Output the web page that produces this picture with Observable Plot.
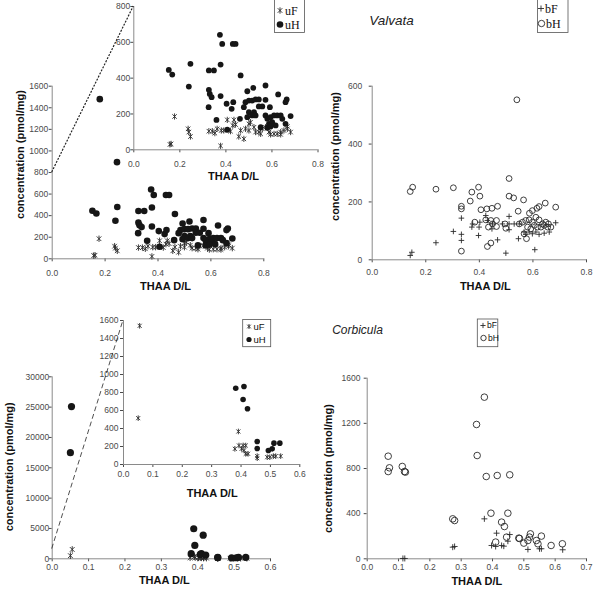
<!DOCTYPE html>
<html><head><meta charset="utf-8">
<script src="https://cdn.jsdelivr.net/npm/d3@7"></script>
<script src="https://cdn.jsdelivr.net/npm/@observablehq/plot@0.6"></script>
<style>
body{margin:0;background:#fff;}
#root{position:relative;width:594px;height:589px;overflow:hidden;background:#fff;}
</style></head><body><div id="root"></div>
<script>
// ---------- data ----------
const valvata_uF = [[0.157,30],[0.162,33],[0.177,186],[0.236,117],[0.239,99],[0.246,74],[0.377,22],[0.326,104],[0.341,104],[0.352,93],[0.362,117],[0.380,108],[0.391,108],[0.406,167],[0.435,167],[0.430,136],[0.442,141],[0.456,74],[0.478,61],[0.485,117],[0.500,108],[0.507,154],[0.522,126],[0.529,99],[0.543,99],[0.558,117],[0.572,126],[0.587,99],[0.609,89],[0.623,89],[0.638,99],[0.652,108],[0.667,117],[0.681,99],[0.500,145],[0.551,89],[0.594,86],[0.638,86],[0.667,130],[0.420,104],[0.464,108]];
const valvata_uH = [[0.180,1480],[0.245,896],[0.152,446],[0.167,420],[0.246,480],[0.239,353],[0.326,443],[0.348,443],[0.377,476],[0.374,642],[0.384,591],[0.430,591],[0.442,591],[0.464,415],[0.326,335],[0.330,312],[0.338,294],[0.377,300],[0.325,238],[0.359,167],[0.403,257],[0.425,229],[0.432,266],[0.406,112],[0.461,173],[0.493,327],[0.519,346],[0.572,359],[0.627,309],[0.664,281],[0.659,266],[0.681,188],[0.485,266],[0.500,275],[0.514,275],[0.529,281],[0.543,281],[0.478,238],[0.500,210],[0.522,210],[0.543,242],[0.558,242],[0.572,279],[0.591,238],[0.493,182],[0.514,192],[0.529,192],[0.551,126],[0.572,192],[0.580,173],[0.594,182],[0.609,192],[0.623,192],[0.638,192],[0.587,145],[0.601,154],[0.616,136],[0.645,173],[0.659,145],[0.580,123],[0.594,130]];
const valvata_bF = [[0.142,15],[0.148,26],[0.238,59],[0.303,98],[0.333,88],[0.333,67],[0.333,144],[0.372,113],[0.397,84],[0.402,130],[0.424,153],[0.430,136],[0.447,107],[0.468,69],[0.449,124],[0.499,23],[0.511,150],[0.511,104],[0.530,124],[0.549,124],[0.546,73],[0.607,35],[0.567,96],[0.573,88],[0.586,96],[0.598,90],[0.611,96],[0.623,88],[0.642,92],[0.661,96],[0.685,128],[0.511,124],[0.486,124],[0.375,124],[0.399,113]];
const valvata_bH = [[0.540,553],[0.142,236],[0.151,251],[0.238,244],[0.303,249],[0.372,234],[0.397,251],[0.402,220],[0.366,203],[0.511,281],[0.511,220],[0.528,214],[0.565,207],[0.333,185],[0.333,176],[0.333,30],[0.406,173],[0.428,176],[0.447,178],[0.468,185],[0.383,130],[0.424,138],[0.443,136],[0.464,136],[0.430,46],[0.443,58],[0.496,124],[0.499,109],[0.545,168],[0.587,161],[0.598,170],[0.615,178],[0.623,184],[0.646,196],[0.685,182],[0.549,124],[0.561,130],[0.573,136],[0.586,138],[0.598,130],[0.611,147],[0.623,138],[0.636,124],[0.648,130],[0.658,124],[0.567,90],[0.576,73],[0.580,113],[0.592,107],[0.605,119],[0.617,113],[0.630,113],[0.642,119],[0.655,113],[0.667,113],[0.464,115],[0.449,124],[0.434,113]];
const corbicula_uF = [[0.055,1541],[0.050,515],[0.391,367],[0.379,174],[0.393,211],[0.407,211],[0.416,211],[0.402,174],[0.410,156],[0.416,119],[0.424,119],[0.455,93],[0.455,70],[0.489,81],[0.498,81],[0.510,93],[0.518,93],[0.535,93]];
const corbicula_uH = [[0.053,25100],[0.050,17500],[0.389,4950],[0.392,2200],[0.415,3900],[0.382,848],[0.410,867],[0.407,722],[0.422,619],[0.455,256],[0.455,178],[0.493,156],[0.506,174],[0.512,237],[0.532,237]];
const corbicula_bF = [[0.374,354],[0.413,227],[0.455,215],[0.449,156],[0.397,118],[0.410,109],[0.429,118],[0.436,112],[0.273,103],[0.279,109],[0.114,3],[0.120,3],[0.513,83],[0.550,89],[0.556,89],[0.624,80]];
const corbicula_bH = [[0.374,1432],[0.349,1190],[0.351,915],[0.067,909],[0.071,806],[0.067,773],[0.112,818],[0.119,773],[0.122,768],[0.380,729],[0.415,738],[0.455,744],[0.273,354],[0.279,339],[0.395,404],[0.449,404],[0.429,325],[0.438,286],[0.410,148],[0.445,192],[0.484,183],[0.486,180],[0.500,139],[0.513,162],[0.521,221],[0.518,192],[0.540,162],[0.545,133],[0.556,201],[0.587,118],[0.623,133]];

const xTicks08 = [0, 0.2, 0.4, 0.6, 0.8];
const xTicks06 = [0, 0.1, 0.2, 0.3, 0.4, 0.5, 0.6];
const xTicks07 = [0, 0.1, 0.2, 0.3, 0.4, 0.5, 0.6, 0.7];
const yTicksV1 = [0, 200, 400, 600, 800, 1000, 1200, 1400, 1600];
const yTicksV1i = [0, 200, 400, 600, 800];
const yTicksV2 = [0, 200, 400, 600];
const yTicksC1 = [0, 5000, 10000, 15000, 20000, 25000, 30000];
const yTicksC1i = [0, 200, 400, 600, 800, 1000, 1200, 1400, 1600];
const yTicksC2 = [0, 400, 800, 1200, 1600];

const xTitle = "THAA D/L";
const yTitle = "concentration (pmol/mg)";
const speciesTitles = ["Valvata", "Corbicula"];
const legendUnbleached = ["uF", "uH"];
const legendBleached = ["bF", "bH"];

// ---------- helpers ----------
const toObj = arr => arr.map(([x, y]) => ({x, y}));
const asterSym = {draw(ctx, size) {
  const r = Math.sqrt(size / Math.PI), d = r * 0.72;
  ctx.moveTo(0, -r); ctx.lineTo(0, r);
  ctx.moveTo(-d, -d); ctx.lineTo(d, d);
  ctx.moveTo(-d, d); ctx.lineTo(d, -d);
}};
const plusSym = {draw(ctx, size) {
  const r = Math.sqrt(size / Math.PI);
  ctx.moveTo(-r, 0); ctx.lineTo(r, 0);
  ctx.moveTo(0, -r); ctx.lineTo(0, r);
}};

const root = document.getElementById("root");
const SANS = "'Liberation Sans', Arial, sans-serif";
const SERIF = "'Liberation Serif', 'Times New Roman', serif";

function panel(cfg) {
  const [L, T, W, H] = cfg.box;
  const [x0, x1, y0, y1] = cfg.frame;
  const marks = [
    Plot.ruleX([cfg.xDomain[0]], {stroke: "#8a8a8a", strokeWidth: 1}),
    Plot.ruleY([cfg.yDomain[0]], {stroke: "#8a8a8a", strokeWidth: 1}),
    ...cfg.marks,
    Plot.text([xTitle], {text: d => d, frameAnchor: "bottom", dx: cfg.xt[0], dy: cfg.xt[1],
      fontWeight: "bold", fontSize: 11, fill: "#111", lineAnchor: "middle", textAnchor: "middle"})
  ];
  if (cfg.yt) marks.push(Plot.text([yTitle], {text: d => d, frameAnchor: "left", rotate: -90,
      dx: cfg.yt[0], dy: cfg.yt[1], fontWeight: "bold", fontSize: 11, fill: "#111",
      lineAnchor: "middle", textAnchor: "middle"}));
  const p = Plot.plot({
    width: W, height: H,
    marginLeft: x0 - L, marginRight: L + W - x1, marginTop: y0 - T, marginBottom: T + H - y1,
    x: {domain: cfg.xDomain, ticks: cfg.xTicks, tickFormat: ".1f", tickSize: 3, tickPadding: cfg.xPad, label: null},
    y: {domain: cfg.yDomain, ticks: cfg.yTicks, tickFormat: "d", tickSize: 3, tickPadding: cfg.yPad, label: null},
    style: {background: "none", overflow: "visible", fontFamily: SANS, fontSize: "8.5px", color: "#4a4a4a"},
    marks
  });
  p.style.position = "absolute";
  p.style.left = L + "px";
  p.style.top = T + "px";
  root.appendChild(p);
  return {L, T, x: p.scale("x"), y: p.scale("y")};
}
const inDomain = (arr, ymax) => toObj(arr).filter(d => d.y <= ymax);

// ---------- Valvata unbleached (main) ----------
const v1 = panel({
  box: [0, 60, 300, 240], frame: [51.7, 263.3, 85.7, 258.3],
  xDomain: [0, 0.8], yDomain: [0, 1600], xTicks: xTicks08, yTicks: yTicksV1, xPad: 7.7, yPad: 1,
  xt: [7.5, 27.7], yt: [-32, -18],
  marks: [
    Plot.dot(toObj(valvata_uF), {x: "x", y: "y", symbol: asterSym, r: 3.2, fill: "none", stroke: "#2a2a2a", strokeWidth: 0.9}),
    Plot.dot(toObj(valvata_uH), {x: "x", y: "y", r: 3.3, fill: "#161616", stroke: "none"})
  ]
});
// ---------- Valvata unbleached (inset) ----------
const v1i = panel({
  box: [95, 0, 230, 190], frame: [133.3, 317.5, 6, 149.3],
  xDomain: [0, 0.8], yDomain: [0, 800], xTicks: xTicks08, yTicks: yTicksV1i, xPad: 8, yPad: 0.5,
  xt: [7.6, 26.7], yt: null,
  marks: [
    Plot.dot(inDomain(valvata_uF, 800), {x: "x", y: "y", symbol: asterSym, r: 3.1, fill: "none", stroke: "#2a2a2a", strokeWidth: 0.9}),
    Plot.dot(inDomain(valvata_uH, 800), {x: "x", y: "y", r: 2.9, fill: "#161616", stroke: "none"})
  ]
});
// ---------- Valvata bleached ----------
const v2 = panel({
  box: [300, 60, 294, 240], frame: [371.7, 586, 85.7, 259.3],
  xDomain: [0, 0.8], yDomain: [0, 600], xTicks: xTicks08, yTicks: yTicksV2, xPad: 6.4, yPad: 7,
  xt: [6, 26.7], yt: [-36.7, -16.5],
  marks: [
    Plot.dot(toObj(valvata_bF), {x: "x", y: "y", symbol: plusSym, r: 2.8, fill: "none", stroke: "#2a2a2a", strokeWidth: 0.9}),
    Plot.dot(toObj(valvata_bH), {x: "x", y: "y", r: 2.9, fill: "none", stroke: "#2a2a2a", strokeWidth: 0.9})
  ]
});
// ---------- Corbicula unbleached (main) ----------
const c1 = panel({
  box: [0, 360, 300, 229], frame: [51.7, 270, 376.3, 558.3],
  xDomain: [0, 0.6], yDomain: [0, 30000], xTicks: xTicks06, yTicks: yTicksC1, xPad: 2.4, yPad: 0,
  xt: [3, 21.7], yt: [-43, -1],
  marks: [
    Plot.dot(toObj(corbicula_uF), {x: "x", y: "y", symbol: asterSym, r: 3.3, fill: "none", stroke: "#2a2a2a", strokeWidth: 0.9}),
    Plot.dot(toObj(corbicula_uH), {x: "x", y: "y", r: 3.6, fill: "#161616", stroke: "none"})
  ]
});
// ---------- Corbicula unbleached (inset) ----------
const c1i = panel({
  box: [90, 305, 220, 200], frame: [123, 299.3, 320, 464],
  xDomain: [0, 0.6], yDomain: [0, 1600], xTicks: xTicks06, yTicks: yTicksC1i, xPad: 3.3, yPad: 2,
  xt: [0.5, 28.7], yt: null,
  marks: [
    Plot.dot(inDomain(corbicula_uF, 1600), {x: "x", y: "y", symbol: asterSym, r: 2.8, fill: "none", stroke: "#2a2a2a", strokeWidth: 0.9}),
    Plot.dot(inDomain(corbicula_uH, 1600), {x: "x", y: "y", r: 2.8, fill: "#161616", stroke: "none"})
  ]
});
// ---------- Corbicula bleached ----------
const c2 = panel({
  box: [300, 360, 294, 229], frame: [366.7, 586, 377.7, 558.3],
  xDomain: [0, 0.7], yDomain: [0, 1600], xTicks: xTicks07, yTicks: yTicksC2, xPad: 2.4, yPad: 3.7,
  xt: [0, 22.4], yt: [-38.5, 0],
  marks: [
    Plot.dot(toObj(corbicula_bF), {x: "x", y: "y", symbol: plusSym, r: 3, fill: "none", stroke: "#2a2a2a", strokeWidth: 0.9}),
    Plot.dot(toObj(corbicula_bH), {x: "x", y: "y", r: 3.3, fill: "none", stroke: "#2a2a2a", strokeWidth: 0.9})
  ]
});

// ---------- overlay: zoom links, legends, titles ----------
const ov = d3.select(root).append("svg")
  .attr("width", 594).attr("height", 589)
  .style("position", "absolute").style("left", "0px").style("top", "0px").style("overflow", "visible");

function link(main, inset, value, dash, sw) {
  ov.append("line")
    .attr("x1", main.L + main.x.apply(0)).attr("y1", main.T + main.y.apply(value))
    .attr("x2", inset.L + inset.x.apply(0)).attr("y2", inset.T + inset.y.apply(value))
    .attr("stroke", "#222").attr("stroke-width", sw).attr("stroke-dasharray", dash);
}
link(v1, v1i, yTicksV1i[yTicksV1i.length - 1], "2,1.4", 1.2);
link(c1, c1i, yTicksC1i[yTicksC1i.length - 1], "5,3", 0.8);

function legend(box, labels, syms, font, fsize) {
  const [x, y, w, h] = box.rect;
  ov.append("rect").attr("x", x).attr("y", y).attr("width", w).attr("height", h)
    .attr("fill", "#fff").attr("stroke", "#555").attr("stroke-width", 0.8);
  labels.forEach((lab, i) => {
    const [sx, sy, tx] = box.items[i];
    const s = syms[i];
    const path = d3.symbol().type(s.type).size(Math.PI * s.r * s.r)();
    ov.append("path").attr("d", path).attr("transform", `translate(${sx},${sy})`)
      .attr("fill", s.fill).attr("stroke", s.stroke).attr("stroke-width", 0.9);
    ov.append("text").attr("x", tx).attr("y", sy).attr("dy", "0.35em")
      .attr("font-family", font).attr("font-size", fsize).attr("fill", "#111").text(lab);
  });
}
const symAster = {type: asterSym, r: 3.2, fill: "none", stroke: "#2a2a2a"};
const symFill = {type: d3.symbolCircle, r: 3.3, fill: "#161616", stroke: "none"};
const symPlus = {type: plusSym, r: 3, fill: "none", stroke: "#2a2a2a"};
const symOpen = {type: d3.symbolCircle, r: 3.2, fill: "none", stroke: "#2a2a2a"};

legend({rect: [274.5, -1, 30, 33.5], items: [[280, 10.5, 285], [280, 24.5, 285]]},
  legendUnbleached, [symAster, symFill], SERIF, 12);
legend({rect: [537.5, -1, 30.5, 33.5], items: [[541, 8.5, 545], [541.5, 23.5, 546]]},
  legendBleached, [symPlus, symOpen], SERIF, 12);
legend({rect: [242.7, 319.5, 28, 27.2], items: [[249, 326.5, 253.5], [249, 339.5, 253.5]]},
  legendUnbleached, [{...symAster, r: 2.5}, {...symFill, r: 2.6}], SANS, 9.5);
legend({rect: [477.3, 319, 20.5, 27.7], items: [[483, 325.5, 487], [483.5, 338, 488]]},
  legendBleached, [{...symPlus, r: 2.6}, {...symOpen, r: 2.7}], SANS, 8.5);

ov.append("text").attr("x", 391.5).attr("y", 20).attr("dy", "0.35em").attr("text-anchor", "middle")
  .attr("font-family", SANS).attr("font-style", "italic").attr("font-size", 13.5).attr("fill", "#222")
  .text(speciesTitles[0]);
ov.append("text").attr("x", 357.5).attr("y", 330).attr("dy", "0.35em").attr("text-anchor", "middle")
  .attr("font-family", SANS).attr("font-style", "italic").attr("font-size", 12).attr("fill", "#222")
  .text(speciesTitles[1]);
</script></body></html>
